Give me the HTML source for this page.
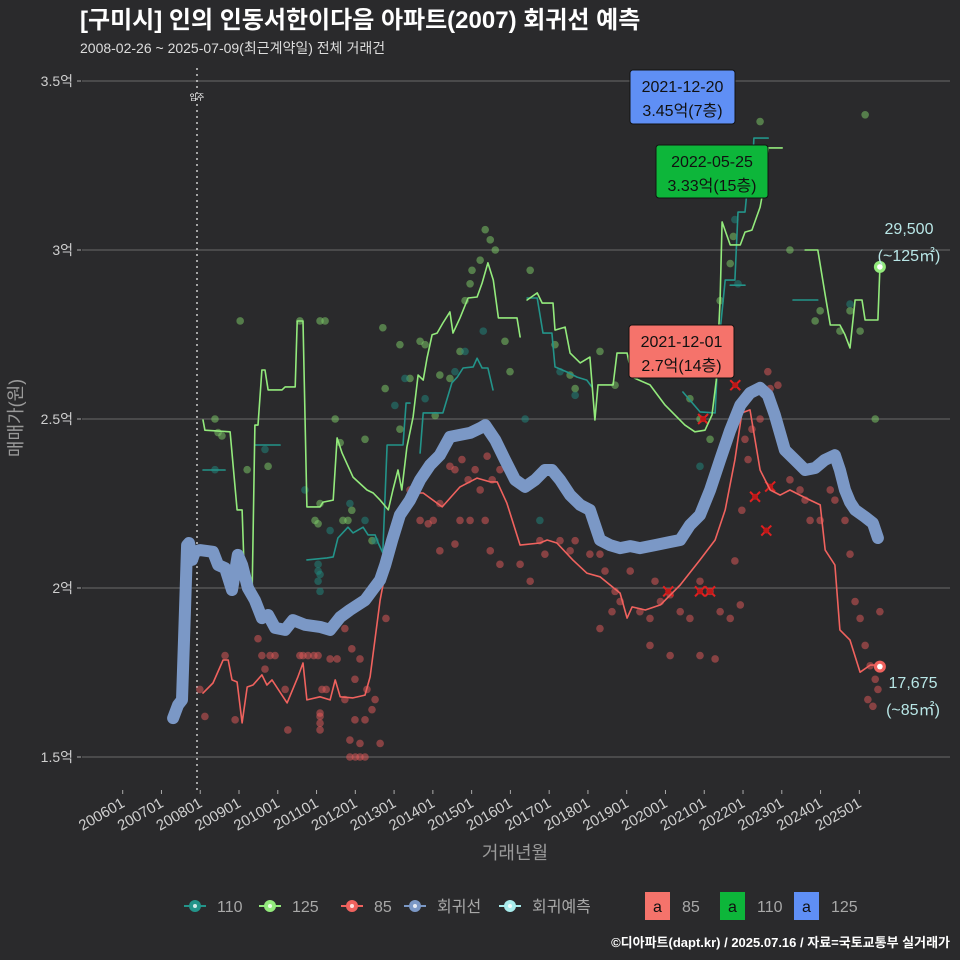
<!DOCTYPE html>
<html><head><meta charset="utf-8"><style>
html,body{margin:0;padding:0;background:#2a2a2c;}
svg{display:block;font-family:"Liberation Sans","Noto Sans CJK KR",sans-serif;}
</style></head><body>
<svg id="chart" width="960" height="960" viewBox="0 0 960 960">
<rect x="0" y="0" width="960" height="960" fill="#2a2a2c"/>
<text x="80" y="28" fill="#ffffff" font-size="24" font-weight="bold">[구미시] 인의 인동서한이다음 아파트(2007) 회귀선 예측</text>
<text x="80" y="53" fill="#dddddd" font-size="14">2008-02-26 ~ 2025-07-09(최근계약일) 전체 거래건</text>
<g id="grid"></g>
<g id="yaxis"></g>
<g id="xaxis"></g>
<line x1="197" y1="68" x2="197" y2="790" stroke="#cccccc" stroke-width="1.5" stroke-dasharray="2,4"/>
<text x="197" y="100" fill="#ffffff" font-size="8" text-anchor="middle">입주</text>
<g id="points"></g>
<g id="lines"></g>
<g id="annot"></g>
<text transform="translate(22,418) rotate(-90)" fill="#9a9a9a" font-size="18" text-anchor="middle">매매가(원)</text>
<text x="515" y="859" fill="#9a9a9a" font-size="18" text-anchor="middle">거래년월</text>
<g id="legend"></g>
<text x="950" y="947" fill="#ffffff" font-size="13" font-weight="bold" text-anchor="end">©디아파트(dapt.kr) / 2025.07.16 / 자료=국토교통부 실거래가</text>
</svg>
<script>
// time = years since 2006-01, value = 억원
const yTicks = [1.5, 2, 2.5, 3, 3.5];
const yTickLabels = ["1.5억", "2억", "2.5억", "3억", "3.5억"];
const xTickYears = [0,1,2,3,4,5,6,7,8,9,10,11,12,13,14,15,16,17,18,19];
const xTickLabels = ["200601","200701","200801","200901","201001","201101","201201","201301","201401","201501","201601","201701","201801","201901","202001","202101","202201","202301","202401","202501"];

const regT = [1.30,1.43,1.53,1.58,1.66,1.71,1.79,1.86,1.99,2.33,2.46,2.64,2.82,2.97,3.08,3.23,3.41,3.59,3.75,3.93,4.19,4.39,4.70,5.09,5.35,5.61,5.86,6.25,6.64,6.77,6.95,7.15,7.41,7.67,7.93,8.18,8.44,8.70,8.96,9.22,9.35,9.61,9.86,10.12,10.38,10.64,10.89,11.07,11.28,11.54,11.80,12.05,12.31,12.57,12.83,13.09,13.34,13.73,14.12,14.38,14.63,14.89,15.15,15.41,15.67,15.93,16.18,16.44,16.64,16.82,17.08,17.34,17.60,17.86,18.11,18.37,18.50,18.63,18.76,18.89,19.15,19.35,19.48];
const regV = [1.615,1.654,1.669,1.846,2.127,2.133,2.083,2.107,2.112,2.107,2.068,2.059,1.994,2.098,2.068,2.0,1.964,1.911,1.920,1.882,1.876,1.905,1.891,1.885,1.876,1.914,1.935,1.964,2.024,2.068,2.142,2.216,2.260,2.320,2.364,2.393,2.447,2.453,2.459,2.473,2.482,2.438,2.379,2.320,2.299,2.320,2.349,2.349,2.320,2.275,2.246,2.231,2.142,2.127,2.118,2.124,2.118,2.127,2.136,2.142,2.186,2.216,2.290,2.379,2.467,2.541,2.577,2.592,2.571,2.512,2.408,2.379,2.349,2.355,2.379,2.393,2.349,2.290,2.254,2.231,2.210,2.192,2.148];

const s85T = [2.07,2.33,2.59,2.72,2.82,2.95,3.08,3.21,3.36,3.59,3.72,3.85,4.24,4.52,4.65,4.75,5.09,5.35,5.48,5.61,5.94,6.25,6.38,6.64,6.85,7.15,7.41,7.75,8.24,8.70,9.14,9.48,9.66,9.91,10.25,10.76,10.95,11.20,11.61,11.97,12.31,12.83,13.01,13.14,13.48,13.87,14.38,14.89,15.28,15.54,15.79,15.97,16.18,16.44,16.70,16.96,17.21,17.47,17.73,17.99,18.12,18.37,18.50,18.76,19.02,19.28,19.48];
const s85V = [1.689,1.719,1.787,1.787,1.728,1.722,1.601,1.707,1.713,1.743,1.713,1.728,1.660,1.737,1.778,1.669,1.678,1.669,1.728,1.678,1.675,1.683,1.737,1.964,2.092,2.180,2.281,2.281,2.240,2.299,2.325,2.314,2.314,2.251,2.127,2.133,2.142,2.133,2.083,2.044,2.033,1.985,1.911,1.944,1.935,1.950,2.009,2.083,2.142,2.231,2.379,2.518,2.527,2.349,2.290,2.275,2.290,2.275,2.260,2.246,2.112,2.068,1.876,1.846,1.751,1.772,1.772];

const s125T = [2.07,2.12,2.77,2.95,3.08,3.15,3.34,3.41,3.49,3.59,3.67,3.75,4.11,4.19,4.45,4.50,4.65,4.75,5.09,5.17,5.43,5.53,5.66,5.94,6.30,6.46,6.64,6.85,6.97,7.10,7.20,7.33,7.49,7.62,7.75,7.85,7.98,8.11,8.26,8.44,8.52,8.70,8.91,9.14,9.27,9.42,9.56,9.69,10.17,10.25,null,10.43,10.69,10.82,11.10,11.15,11.41,11.54,11.80,12.05,12.18,12.26,12.65,12.75,13.01,13.14,13.60,13.99,14.50,14.76,15.02,15.20,15.31,15.41,15.46,15.67,15.93,16.05,16.23,16.44,16.57,16.65,17.01,null,17.60,17.93,18.12,18.25,18.50,18.63,18.76,18.89,19.07,19.15,19.48,19.53];
const s125V = [2.497,2.467,2.462,2.231,2.231,2.0,2.0,2.482,2.482,2.645,2.645,2.586,2.586,2.595,2.595,2.790,2.790,2.240,2.240,2.254,2.260,2.444,2.399,2.328,2.290,2.281,2.260,2.231,2.290,2.349,2.290,2.417,2.506,2.630,2.615,2.680,2.749,2.754,2.784,2.817,2.754,2.799,2.858,2.861,2.902,2.962,2.911,2.799,2.799,2.743,null,2.852,2.873,2.843,2.843,2.763,2.772,2.695,2.666,2.683,2.497,2.601,2.601,2.695,2.695,2.624,2.601,2.541,2.482,2.462,2.467,2.512,2.615,2.852,3.083,3.015,3.015,3.053,3.059,3.127,3.207,3.302,3.302,null,3.0,3.0,2.867,2.778,2.778,2.749,2.710,2.852,2.852,2.793,2.793,2.947];

const s110T = [2.07,2.64,null,3.41,4.06,null,4.75,5.27,5.43,5.55,5.81,5.94,6.20,6.33,6.51,6.59,6.71,6.82,7.23,7.31,7.41,null,7.67,7.75,8.26,8.49,8.63,8.78,9.04,9.14,9.27,9.42,9.55,null,10.43,10.69,10.84,11.07,11.15,11.46,11.72,11.97,12.10,null,14.45,14.89,15.28,15.36,15.54,15.79,15.87,16.05,16.13,16.23,16.28,16.65,null,15.67,16.05,null,17.29,17.93];
const s110V = [2.349,2.349,null,2.423,2.423,null,2.083,2.089,2.092,2.148,2.180,2.163,2.180,2.157,2.157,2.133,2.104,2.423,2.423,2.547,2.547,null,2.399,2.518,2.518,2.607,2.624,2.651,2.654,2.680,2.651,2.651,2.586,null,2.858,2.858,2.754,2.754,2.654,2.639,2.624,2.615,2.595,null,2.580,2.521,2.518,2.704,2.911,2.911,3.112,3.112,3.207,3.207,3.331,3.331,null,2.896,2.896,null,2.852,2.852];

const p85T = [2.12,1.99,2.64,2.90,3.49,3.59,3.67,3.80,3.93,4.19,4.26,4.57,4.65,4.78,4.93,5.04,5.14,5.25,5.35,5.53,5.73,5.86,5.99,6.12,6.25,6.30,6.43,5.99,5.73,5.91,6.12,6.51,6.64,6.79,7.02,7.41,7.67,7.88,8.01,8.18,8.44,8.57,8.75,8.91,9.09,9.22,9.40,9.53,9.73,9.86,8.70,8.96,9.35,8.18,8.57,9.48,9.73,10.25,10.51,10.76,10.89,11.28,11.54,11.67,12.05,12.31,12.44,12.62,12.70,13.09,13.34,13.60,13.73,13.87,12.31,12.83,14.12,14.38,14.63,14.89,15.15,15.41,15.67,15.93,13.60,14.12,14.89,15.28,15.79,15.97,16.13,16.05,16.23,16.44,16.64,16.70,16.90,17.21,17.47,17.60,17.73,17.99,18.25,18.37,18.63,18.76,18.89,19.02,19.15,19.28,19.41,19.48,19.53,19.22,19.35,5.09,5.09,5.09,5.09,5.86,6.00,6.12,6.25];
const p85V = [1.62,1.70,1.80,1.61,1.85,1.80,1.76,1.80,1.80,1.70,1.58,1.80,1.80,1.80,1.80,1.80,1.70,1.70,1.79,1.79,1.67,1.55,1.61,1.54,1.61,1.70,1.64,1.73,1.88,1.82,1.79,1.67,1.54,1.91,2.17,2.29,2.20,2.19,2.20,2.25,2.36,2.35,2.38,2.32,2.35,2.29,2.39,2.32,2.35,2.38,2.20,2.20,2.20,2.11,2.13,2.11,2.07,2.07,2.02,2.14,2.10,2.14,2.11,2.14,2.10,2.10,2.05,1.93,1.99,2.05,1.93,1.91,2.02,1.96,1.88,1.96,1.98,1.93,1.91,2.02,1.99,1.93,1.91,1.95,1.83,1.80,1.80,1.79,2.08,2.23,2.38,2.44,2.47,2.50,2.64,2.59,2.60,2.32,2.29,2.26,2.20,2.20,2.29,2.26,2.20,2.10,1.96,1.91,1.83,1.77,1.73,1.70,1.93,1.67,1.65,1.62,1.60,1.58,1.63,1.50,1.50,1.50,1.50];
const x85T = [14.07,14.89,15.15,14.97,16.31,16.60,16.70,15.80];
const x85V = [1.99,1.99,1.99,2.50,2.27,2.17,2.30,2.60];

const p125T = [2.38,2.46,2.56,3.03,3.21,3.75,4.57,5.09,5.22,6.71,7.15,7.41,7.67,7.80,8.06,7.15,4.96,5.04,5.09,5.68,5.81,5.91,6.25,6.43,5.48,5.61,6.77,8.18,8.44,8.70,8.83,8.96,9.01,9.22,9.35,9.48,9.61,9.86,9.99,10.51,11.15,11.54,11.67,12.31,12.70,13.34,13.73,14.63,14.89,15.41,15.67,15.75,16.05,16.44,17.21,17.86,17.99,18.76,19.02,19.15,19.41,18.50,15.15];
const p125V = [2.50,2.46,2.45,2.79,2.35,2.36,2.79,2.79,2.79,2.77,2.72,2.62,2.73,2.72,2.51,2.47,2.20,2.19,2.25,2.20,2.20,2.23,2.44,2.14,2.50,2.43,2.59,2.63,2.62,2.70,2.85,2.90,2.94,2.97,3.06,3.03,3.00,2.73,2.64,2.94,2.72,2.63,2.59,2.70,2.60,2.73,2.76,2.56,2.50,2.85,2.96,3.04,3.20,3.38,3.00,2.79,2.82,2.82,2.76,3.40,2.50,2.76,2.44];

const p110T = [2.38,3.67,5.04,5.04,5.04,5.09,5.09,4.70,5.35,5.86,6.25,6.51,7.02,7.28,7.80,8.57,8.83,9.30,10.38,10.76,11.28,11.67,14.89,15.79,15.87,18.76];
const p110V = [2.35,2.41,2.02,2.05,2.07,1.99,2.04,2.29,2.17,2.25,2.20,2.14,2.54,2.62,2.56,2.64,2.70,2.76,2.50,2.20,2.64,2.57,2.36,3.09,2.90,2.84];

const lastT = [19.53, 19.53];
const lastV = [2.95, 1.7675];

const NS = "http://www.w3.org/2000/svg";
function X(t){ return 122.7 + t*38.77; }
function Y(v){ return 757 - (v-1.5)*338; }
function mk(tag, attrs, parent){
  const e = document.createElementNS(NS, tag);
  for (const k in attrs) e.setAttribute(k, attrs[k]);
  parent.appendChild(e);
  return e;
}
const grid = document.getElementById('grid');
const yaxis = document.getElementById('yaxis');
const xaxis = document.getElementById('xaxis');
yTicks.forEach((v,i)=>{
  const l = mk('line',{x1:82,x2:950,y1:Y(v),y2:Y(v),stroke:'#6a6a6a','stroke-width':1},grid);
  
  
  const tk = mk('line',{x1:77,x2:81,y1:Y(v),y2:Y(v),stroke:'#aaa'},yaxis);
  
  
  const t = mk('text',{x:73,y:Y(v)+5,fill:'#cfcfcf','font-size':14,'text-anchor':'end'},yaxis);
  t.textContent = yTickLabels[i];
  
  
});
xTickYears.forEach((yr,i)=>{
  const x = X(yr);
  const tk = mk('line',{x1:x,x2:x,y1:790,y2:794,stroke:'#aaa'},xaxis);
  
  
  const t = mk('text',{x:x+3,y:806,fill:'#cfcfcf','font-size':15,'text-anchor':'end',transform:`rotate(-30 ${x+3} 806)`},xaxis);
  t.textContent = xTickLabels[i];
  
  
});

const pts = document.getElementById('points');
function scatter(T,V,fill,name){
  T.forEach((t,i)=>{
    const c = mk('circle',{cx:X(t),cy:Y(V[i]),r:3.8,fill:fill,'fill-opacity':0.5},pts);
    
    
  });
}
scatter(p85T,p85V,'#e35a5a','point-85');
scatter(p125T,p125V,'#7fcf6a','point-125');
scatter(p110T,p110V,'#1f8a80','point-110');
x85T.forEach((t,i)=>{
  const x=X(t), y=Y(x85V[i]);
  const g = mk('path',{d:`M${x-5},${y-5}L${x+5},${y+5}M${x-5},${y+5}L${x+5},${y-5}`,stroke:'#e02020','stroke-width':2},pts);
  
  
  const c = mk('circle',{cx:x,cy:y,r:3,fill:'#c01818'},pts);
  
  
});

const lines = document.getElementById('lines');
function pathD(T,V){
  let d='', pen=false;
  T.forEach((t,i)=>{
    if(t===null||V[i]===null){pen=false;return;}
    d += (pen?'L':'M') + X(t).toFixed(1) + ',' + Y(V[i]).toFixed(1);
    pen=true;
  });
  return d;
}
function line(T,V,color,w,name){
  const p = mk('path',{d:pathD(T,V),fill:'none',stroke:color,'stroke-width':w,'stroke-linejoin':'round','stroke-linecap':'round'},lines);
  
  
}
line(s110T,s110V,'#23948a',1.6,'line-110');
line(s125T,s125V,'#93ea7c',1.6,'line-125');
line(s85T,s85V,'#f0625e',1.6,'line-85');
line(regT,regV,'#7b98c6',12,'regression-line');

const ann = document.getElementById('annot');
const lc = ['#93ea7c','#f0625e'];
lastT.forEach((t,i)=>{
  const c = mk('circle',{cx:X(t),cy:Y(lastV[i]),r:6,fill:lc[i]},ann);
  
  
  const c2 = mk('circle',{cx:X(t),cy:Y(lastV[i]),r:2.8,fill:'#ffffff'},ann);
  
  
});
function lbl(x,y,txt,name){
  const t = mk('text',{x:x,y:y,fill:'#b8e6e6','font-size':16,'text-anchor':'middle'},ann);
  t.textContent = txt;
  
  
}
lbl(909,234,'29,500','forecast-125-value');
lbl(909,261,'(~125㎡)','forecast-125-area');
lbl(913,688,'17,675','forecast-85-value');
lbl(913,715,'(~85㎡)','forecast-85-area');
function box(x,y,w,h,fill,l1,l2,name){
  const g = mk('g',{},ann);
  
  
  mk('rect',{x:x,y:y,width:w,height:h,rx:3,fill:fill,stroke:'#111','stroke-width':1},g);
  const a = mk('text',{x:x+w/2,y:y+22,fill:'#111','font-size':16,'text-anchor':'middle'},g);
  a.textContent=l1;
  const b = mk('text',{x:x+w/2,y:y+46,fill:'#111','font-size':16,'text-anchor':'middle'},g);
  b.textContent=l2;
}
box(630,70,105,54,'#5f8ff5','2021-12-20','3.45억(7층)','max-125-label');
box(656,145,112,53,'#0db63a','2022-05-25','3.33억(15층)','max-110-label');
box(629,325,105,53,'#f5736b','2021-12-01','2.7억(14층)','max-85-label');

const leg = document.getElementById('legend');
const legNames = ['110','125','85','회귀선','회귀예측'];
const legColors = ['#23948a','#93ea7c','#f0625e','#7b98c6','#a8ecec'];
const legX = [195,270,352,415,510];
legNames.forEach((n,i)=>{
  const g = mk('g',{},leg);
  
  
  mk('line',{x1:legX[i]-11,x2:legX[i]+11,y1:906,y2:906,stroke:legColors[i],'stroke-width':2},g);
  mk('circle',{cx:legX[i],cy:906,r:6,fill:legColors[i]},g);
  mk('circle',{cx:legX[i],cy:906,r:2,fill:'#ffffff','fill-opacity':0.8},g);
  const t = mk('text',{x:legX[i]+22,y:912,fill:'#a8a8a8','font-size':16},g);
  t.textContent=n;
});
const boxNames=['85','110','125'];
const boxColors=['#f5736b','#0db63a','#5f8ff5'];
const boxX=[645,720,794];
boxNames.forEach((n,i)=>{
  const g = mk('g',{},leg);
  
  
  mk('rect',{x:boxX[i],y:892,width:25,height:28,fill:boxColors[i]},g);
  const a = mk('text',{x:boxX[i]+12.5,y:912,fill:'#111','font-size':16,'text-anchor':'middle'},g);
  a.textContent='a';
  const t = mk('text',{x:boxX[i]+37,y:912,fill:'#a8a8a8','font-size':16},g);
  t.textContent=n;
});
</script>
</body></html>
